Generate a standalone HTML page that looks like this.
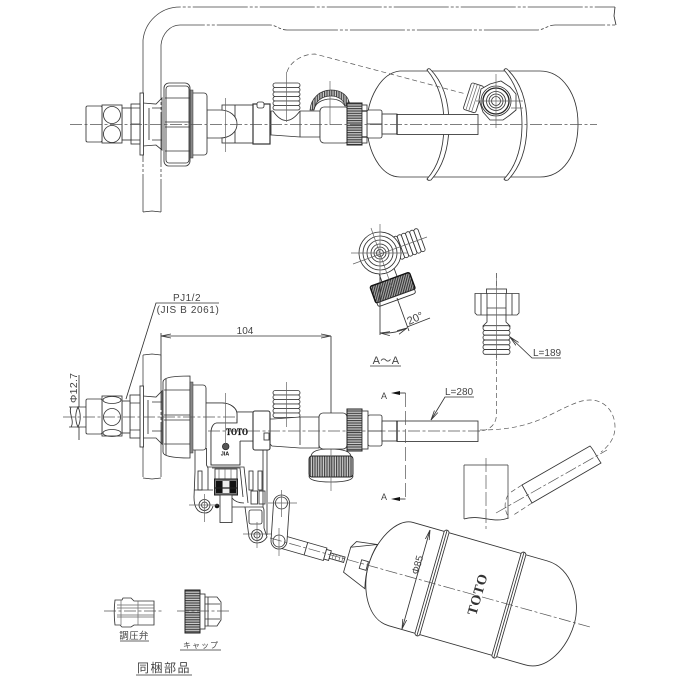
<!DOCTYPE html>
<html><head><meta charset="utf-8"><style>
html,body{margin:0;padding:0;background:#fff;width:682px;height:682px;overflow:hidden}
svg{display:block}
text{font-family:"Liberation Sans","Noto Sans CJK JP",sans-serif;fill:#444;stroke:none}
.l{fill:none;stroke:#333;stroke-width:.85}
.w{fill:#fff;stroke:#333;stroke-width:.85}
.h{fill:none;stroke:#222;stroke-width:1.3}
.t{fill:none;stroke:#666;stroke-width:.7}
.c{fill:none;stroke:#555;stroke-width:.7;stroke-dasharray:12 2.5 3 2.5}
.d{fill:none;stroke:#555;stroke-width:.7;stroke-dasharray:5 3}
.dd{fill:none;stroke:#444;stroke-width:.8;stroke-dasharray:55 2 3 2 3 2}
</style></head><body>
<svg width="682" height="682" viewBox="0 0 682 682" xmlns="http://www.w3.org/2000/svg">
<defs>
<pattern id="k" width="3" height="2.4" patternUnits="userSpaceOnUse"><rect width="3" height="2.4" fill="#ccc"/><rect width="3" height="1.2" fill="#444"/></pattern>
<pattern id="kv" width="2.4" height="3" patternUnits="userSpaceOnUse"><rect width="2.4" height="3" fill="#ccc"/><rect width="1.2" height="3" fill="#444"/></pattern>
<pattern id="kd" width="2.2" height="3" patternUnits="userSpaceOnUse" patternTransform="rotate(35)"><rect width="2.2" height="3" fill="#aaa"/><rect width="1.1" height="3" fill="#333"/></pattern>
<g id="thr">
<rect class="w" x="-13.500" y="-13.500" width="27" height="4.500" rx="2.200"/>
<rect class="w" x="-13.500" y="-9" width="27" height="4.500" rx="2.200"/>
<rect class="w" x="-13.500" y="-4.500" width="27" height="4.500" rx="2.200"/>
<rect class="w" x="-13.500" y="0" width="27" height="4.500" rx="2.200"/>
<rect class="w" x="-13.500" y="4.500" width="27" height="4.500" rx="2.200"/>
<rect class="w" x="-13.500" y="9" width="27" height="4.500" rx="2.200"/>
</g>
<marker id="a" viewBox="0 0 10 6" refX="10" refY="3" markerWidth="10" markerHeight="6" orient="auto-start-reverse" markerUnits="userSpaceOnUse"><path d="M0 1L10 3L0 5" fill="none" stroke="#333" stroke-width=".8"/></marker>
</defs>

<!-- TOP VIEW wall -->
<path class="dd" d="M143 40C145 22 160 7 180 7H615"/>
<path class="dd" d="M161 45C162 34 170 25 180 25H270C276 25 280 30 287 30H537C544 30 548 25 555 25H616"/>
<path class="l" d="M615 7L614 16L616 25"/>
<path class="dd" d="M143 40V212"/><path class="dd" d="M161 45V212"/>
<path class="l" d="M143 212L152 211L161 212"/>

<!-- FLOAT top -->
<path class="l" d="M540 71H400C380 73 367 100 367 124C367 150 380 177 400 177H540C563 177 578 155 578 124C578 95 563 71 540 71Z"/>
<path class="w" d="M430 69Q449 88 449 124Q449 160 431 180Q428 181 427 179Q444 160 444 124Q444 90 427 70Q428 68 430 69Z"/>
<path class="w" d="M507 69Q527 88 527 124Q527 160 508 180Q505 181 504 179Q522 160 522 124Q522 90 504 70Q505 68 507 69Z"/>
<path class="d" d="M287 72C290 62 302 54 315 54L466 94"/>
<!-- rotated valve in float -->
<g transform="rotate(18 474 98)"><rect class="w" x="467" y="84" width="13" height="28" rx="2"/><path class="t" d="M470 84V112M473 84V112M476 84V112"/></g>
<path class="w" d="M481 89L490 84L501 81L510 87L516 94L516 110L510 115L503 120L490 120L483 112L479 100Z"/>
<circle class="w" cx="496" cy="101" r="15"/><circle class="h" cx="496" cy="101" r="13"/><circle class="l" cx="496" cy="101" r="9.500"/><circle class="l" cx="496" cy="101" r="7"/><circle class="l" cx="496" cy="101" r="4.500"/>
<path class="t" d="M496 74V128M476 101H523M511 108L523 108"/>

<!-- pipe top -->
<rect class="w" x="367" y="110" width="15" height="28" rx="2"/><path class="l" d="M367 124H382"/>
<rect class="w" x="382" y="114" width="15" height="20"/>
<rect class="w" x="397" y="114.500" width="81" height="20"/>
<path class="h" d="M397 114V134"/>

<!-- body top -->
<path d="M310 110C311 98 320 90 331 90C342 90 349 96 350 106L345 106C344 100 338 96 331 96C321 96 315 102 314 110Z" fill="url(#kv)" stroke="#333" stroke-width=".7"/>
<path class="l" d="M314 110C315 103 322 99 331 99C337 99 342 101 345 106"/>
<g transform="translate(286.500 96.500)"><use href="#thr"/></g>
<path class="w" d="M271 111H273Q286 130 300 111H320V137H300L272 135H271Z"/>
<path class="l" d="M300 111V137"/>
<rect class="w" x="320" y="107" width="29" height="36" rx="4"/>
<rect x="347" y="103" width="15" height="42" fill="url(#k)" stroke="#222" stroke-width="1"/>
<rect class="w" x="362" y="105" width="5" height="38"/>
<path class="h" d="M362 111H367M362 137H367"/>
<path class="t" d="M330 81V125M286.500 72V122"/>

<!-- collar top -->
<rect class="w" x="222" y="105" width="31" height="38"/>
<path class="l" d="M235 105V143"/>
<path class="w" d="M207 110H220C230 110 237 116 237 124C237 132 230 138 220 138H207Z"/>
<rect x="253" y="104" width="17" height="40" class="w" style="stroke-width:1.2"/>
<rect class="w" x="257" y="102" width="7" height="6" rx="2"/>
<path class="t" d="M225.500 98V152"/>

<!-- nut/left top -->
<rect class="w" x="188" y="93" width="19" height="62" rx="3"/>
<rect x="190" y="90" width="3" height="68" fill="#888" stroke="#333" stroke-width=".5"/>
<rect class="w" x="164" y="83" width="26" height="83" rx="5"/>
<rect class="l" x="166" y="86" width="23" height="77" rx="3"/>
<path class="l" d="M165 98H190M165 151H190M165 122H190M165 127H190"/>
<path class="l" d="M143 103L156 104L162 98V150L156 145L143 146M152 108H162V140H152"/>
<path class="l" d="M149 108V140"/>
<rect class="w" x="140" y="93" width="3.500" height="62"/>
<rect class="w" x="131" y="104" width="9" height="40"/>
<path class="l" d="M131 124H140M131 108H140M131 140H140"/>
<rect class="w" x="122" y="108" width="9" height="32"/>
<rect class="w" x="102" y="105" width="20" height="38"/>
<circle class="l" cx="112" cy="115" r="8.500"/><circle class="l" cx="112" cy="134" r="8.500"/>
<rect class="w" x="86" y="106" width="16" height="36" rx="1.500"/>
<path class="c" d="M70 124.500H597"/>

<!-- LOWER: labels -->
<text x="187" y="301" font-size="10" text-anchor="middle" letter-spacing=".5">PJ1/2</text>
<path class="l" d="M126 399L156 303H219"/>
<text x="188" y="313" font-size="10" text-anchor="middle" letter-spacing=".6">(JIS B 2061)</text>
<path class="l" d="M161 336H331" marker-start="url(#a)" marker-end="url(#a)"/>
<path class="l" d="M161 333V380M331 336V414"/>
<text x="245" y="334" font-size="10" text-anchor="middle">104</text>
<text transform="translate(77 403) rotate(-90)" font-size="10.500" letter-spacing=".3">Φ12.7</text>
<path class="l" d="M69 407H86M69 427H86M79 375V407M79 427V440"/>
<path class="l" d="M71 407C68 412 75 421 71 427M78 407C81 413 81 421 78 427C75 421 75 413 78 407Z"/>

<!-- wall lower -->
<path class="dd" d="M143 355V478M161 355V478"/>
<path class="l" d="M143 355L152 354L161 355M143 478L152 479L161 478"/>

<!-- thread lower -->
<g transform="translate(286.500 404)"><use href="#thr"/></g>
<!-- cap lower -->
<path class="w" d="M311 457C311 451 318 449 330 449C342 449 351 451 351 457Z"/>
<path class="w" d="M309 476Q309 482 331 482Q353 482 353 476Z"/>
<rect x="309" y="456" width="44" height="21" fill="url(#kv)" stroke="#222" stroke-width=".9" rx="3"/>
<path class="t" d="M331 449V491"/>

<!-- tee lower -->
<path class="w" d="M270 419H273L300 417H319V448H300L272 446L270 444Z"/>
<path class="l" d="M300 417V445"/>
<rect class="w" x="319" y="413" width="28" height="36" rx="4"/>
<rect x="347" y="409" width="15" height="42" fill="url(#k)" stroke="#222" stroke-width="1"/>
<rect class="w" x="362" y="411" width="6" height="38"/>
<rect class="w" x="368" y="415" width="14" height="31" rx="2"/><path class="l" d="M368 431H382"/>
<rect class="w" x="382" y="421" width="15" height="20"/>
<rect class="w" x="397" y="421" width="81" height="20.500"/>
<path class="h" d="M397 421V441"/>
<path class="t" d="M286.500 382V427"/>

<!-- bracket -->
<path class="l" d="M195 448V472L194 497C194 508 198 513 205 513C209 513 212 510 213 506"/>
<path class="l" d="M206.500 448V465L208 468V490M194 490H213"/>
<path class="l" d="M208 467H244L248 503M212 468H240L243 497"/>
<path class="l" d="M263 450V515M267 450V535"/>
<rect class="l" x="198" y="471" width="4" height="19"/>
<rect class="l" x="249" y="471" width="4" height="19"/><rect class="l" x="258" y="471" width="4" height="19"/>
<rect class="l" x="251" y="491" width="6.500" height="13"/><rect class="l" x="259" y="491" width="6" height="13"/>
<rect x="215" y="469" width="22" height="10" class="w"/>
<path class="t" d="M219 469V479M225 469V479M231 469V479"/>
<rect x="214.500" y="479" width="23" height="16" fill="#777" stroke="#222"/>
<rect x="216" y="481" width="6" height="12" fill="#111"/><rect x="230" y="481" width="6" height="12" fill="#111"/><rect x="223" y="481" width="6" height="12" fill="#eee"/>
<path class="h" d="M215 488H237"/>
<rect class="w" x="220" y="495" width="12" height="27.500"/>
<circle cx="217" cy="506" r="2.300" fill="#111"/>
<path class="l" d="M232 498Q236 503 244 503M232 507H245"/>
<path class="w" d="M245 507H262Q264 507 264 511V528L267 537C262 545 252 545 249 537Z"/>
<rect class="l" x="249" y="510" width="13" height="14" rx="2"/>
<circle class="w" cx="204.500" cy="505" r="5.500"/><circle class="l" cx="204.500" cy="505" r="3"/>
<path class="t" d="M189 505H218M204.500 494V522"/>
<circle class="w" cx="257" cy="535" r="5.500"/><circle class="l" cx="257" cy="535" r="3"/>
<path class="t" d="M243 534H272M257 522V548"/>

<!-- rod lower -->
<g transform="translate(279 541) rotate(16)">
<rect class="w" x="0" y="-6.500" width="48" height="13"/>
<path class="l" d="M28-6.500V6.500"/>
<rect class="w" x="48" y="-5" width="5" height="10"/>
<rect class="w" x="53" y="-2.800" width="15" height="5.600"/>
<path class="t" d="M56-3V3M59-3V3M63-3V3M66-3V3"/>
</g>
<!-- lever -->
<path class="w" d="M273.500 503A8 8 0 0 1 289.500 503L287 541A8 8 0 0 1 271 541Z"/>
<circle class="l" cx="281.500" cy="503" r="6"/><circle class="l" cx="279" cy="541" r="6"/>
<path class="t" d="M268 503H297M281.500 490V517M279 528V556"/>

<!-- collar + neck lower -->
<path class="w" d="M206 403H222C230 403 237 408 237 414V423H217C213 423 211 428 211 433V465H240V441H253V412H237"/>
<path class="w" d="M237 412H253V441H240V463H211V432C211 427 213 423 217 423H237Z" style="stroke:none"/>
<path class="l" d="M206 403H222C230 403 237 408 237 414V423H217C213 423 211 428 211 433V465H240V441"/>
<path class="l" d="M237 412H253M240 441H253"/>
<path class="w" d="M206 403H222C230 403 237 408 237 414V419H206Z" style="stroke:none"/>
<path class="l" d="M206 403H222C230 403 237 408 237 414V423"/>
<rect x="253" y="411" width="17" height="39" rx="2" class="w" style="stroke-width:1.100"/>
<rect class="w" x="264" y="433" width="5" height="7"/>
<text x="226" y="435" font-size="9" font-weight="700" style="font-family:'Liberation Serif',serif;fill:#111;stroke:#111;stroke-width:.25" textLength="22" lengthAdjust="spacingAndGlyphs">TOTO</text>
<circle cx="225.700" cy="446.500" r="3.300" fill="#555" stroke="#222" stroke-width=".7"/>
<text x="225" y="455.500" font-size="5.500" font-weight="700" text-anchor="middle" style="fill:#111">JIA</text>

<!-- left lower -->
<path class="w" d="M163 382C163 378 170 376 190 376V458C172 458 163 456 163 452Z"/>
<rect class="w" x="190" y="385" width="16" height="65" rx="3"/>
<rect x="190" y="382" width="3" height="71" fill="#888" stroke="#333" stroke-width=".5"/>
<path class="l" d="M166 379V455M164 390H190M164 444H190M164 415H190M164 420H190"/>
<path class="l" d="M143 396L156 397L162 391V444L156 438L143 438M152 402H162V431H152"/>
<path class="l" d="M148 400V434"/>
<rect class="w" x="140" y="386" width="3.500" height="61"/>
<rect class="w" x="130" y="395" width="10" height="43"/>
<path class="l" d="M130 403H140M130 430H140"/>
<rect class="w" x="122" y="401" width="8" height="32"/>
<rect class="w" x="102" y="396" width="20" height="40"/>
<circle class="l" cx="112" cy="417" r="8.500"/><ellipse class="l" cx="112" cy="400" rx="9" ry="3.500"/><ellipse class="l" cx="112" cy="433" rx="9" ry="3.500"/>
<rect class="w" x="86" y="399" width="16" height="35" rx="1.500"/>
<path class="c" d="M63 417H237"/>
<path class="c" d="M208 431H482"/>
<path class="t" d="M225.500 393V444"/>

<!-- A~A -->
<g transform="rotate(-20 380 253)">
<rect class="w" x="372" y="272" width="16" height="10"/>
<rect x="359" y="281" width="42" height="18" rx="2" fill="url(#kd)" stroke="#111" stroke-width="1.400"/>
<path class="w" d="M360 299H400V301Q400 303 397 303H363Q360 303 360 301Z"/>
</g>
<g transform="translate(409 244) rotate(-20)">
<rect class="w" x="-13" y="-12" width="4.400" height="24" rx="2"/><rect class="w" x="-8.600" y="-12" width="4.400" height="24" rx="2"/><rect class="w" x="-4.200" y="-12" width="4.400" height="24" rx="2"/><rect class="w" x=".2" y="-12" width="4.400" height="24" rx="2"/><rect class="w" x="4.600" y="-12" width="4.400" height="24" rx="2"/><rect class="w" x="9" y="-12" width="4.400" height="24" rx="2"/>
</g>
<circle class="w" cx="380" cy="253" r="21"/>
<circle class="l" cx="380" cy="253" r="17"/><circle class="l" cx="380" cy="253" r="13"/><circle class="l" cx="380" cy="253" r="9"/><circle class="l" cx="380" cy="253" r="6"/><circle class="l" cx="380" cy="253" r="3.500"/>
<path class="t" d="M351 253H408M380 224V280M353 264L427 237M371 228L392 288"/>
<path class="l" d="M380 275V335M397 298L409 331"/>
<path class="l" d="M380 333Q395 334 407 328" marker-start="url(#a)" marker-end="url(#a)"/>
<path class="l" d="M407 327L430 318"/>
<text transform="translate(409 325) rotate(-24)" font-size="11">20°</text>
<text x="386" y="364" font-size="11" text-anchor="middle" letter-spacing=".4">A～A</text>
<path class="l" d="M370 366H401"/>

<!-- small thread part -->
<path class="d" d="M496.500 273V414C496.500 424 490 431 478 431"/>
<rect class="w" x="486.500" y="289" width="20" height="5"/>
<path class="w" d="M475 293.500H519V313L517 315H477L475 313Z"/>
<path class="l" d="M481 293.500V315M487 293.500V315M506 293.500V315M512 293.500V315M487 308H506"/>
<path class="w" d="M487 315H506V322L510 326H483L487 322Z"/>
<g transform="translate(496.500 340) scale(1 1.060)"><use href="#thr"/></g>
<path class="t" d="M496.500 273V360"/>
<path class="l" d="M561 358H532L510 337" marker-end="url(#a)"/>
<text x="533" y="356" font-size="10">L=189</text>
<text x="445" y="395" font-size="10">L=280</text>
<path class="l" d="M474 397H445L431 420" marker-end="url(#a)"/>

<!-- section arrow -->
<path class="d" d="M405.500 393V499" style="stroke-dasharray:14 4"/>
<path class="l" d="M394 393H405.500"/>
<path d="M391 393L400 391V395Z" fill="#111"/>
<path class="l" d="M394 499H405.500"/>
<path d="M391 499L400 497V501Z" fill="#111"/>
<text x="381" y="399" font-size="9">A</text>
<text x="381" y="500" font-size="9">A</text>

<!-- bent dashed -->
<path class="d" d="M480 430C510 430 530 425 550 415C570 405 580 400 590 400C605 400 615 412 615 427C615 437 610 445 601 452"/>
<!-- wall section -->
<path class="dd" d="M464 465V519"/><path class="l" d="M464 465H508"/><path class="dd" d="M508 465V519"/>
<path class="l" d="M464 519C480 514 494 524 508 518"/>
<path class="d" d="M486 458V529" style="stroke-dasharray:14 3"/>
<!-- pipe lower right -->
<path class="w" d="M522 485L590 446C594 450 596 456 601 463L532 503Z"/>
<path class="d" d="M522 485L508 494M532 503L512 516M508 495C504 502 504 510 509 518"/>
<path class="c" d="M496 513L607 450"/>

<!-- FLOAT lower -->
<g transform="translate(432 583) rotate(16)">
<path class="w" d="M0-53H-35C-52-53-66-25-66 0C-66 25-52 53-30 53H112C135 53 148 25 148 0C148-25 130-53 105-53Z"/>
<path class="w" d="M-63-22L-88-12V14L-63 24C-65 16-66 8-66 1C-66-7-65-15-63-22Z"/>
<path class="l" d="M-63-22L-84-19L-88-12"/>
<rect class="w" x="-74" y="-3" width="7" height="9"/>
<rect class="w" x="-2.500" y="-55" width="5" height="110" rx="2.500"/><path class="l" d="M0-55V55"/>
<rect class="w" x="77.500" y="-55" width="5" height="110" rx="2.500"/><path class="l" d="M80-55V55"/>
</g>
<path class="c" d="M270 538L590 627"/>
<path class="l" d="M430 530L402 629" marker-start="url(#a)" marker-end="url(#a)"/>
<text transform="translate(418 575) rotate(-74)" font-size="10">Φ85</text>
<text transform="translate(476 616) rotate(-74)" font-size="14" font-weight="700" style="font-family:'Liberation Serif',serif;fill:#333" textLength="42">TOTO</text>

<!-- accessories -->
<path class="l" d="M115 600H122L123 598H131L134 601H154V625H134L131 627H122L120 625H115C114 617 114 608 115 600Z"/>
<path class="t" d="M117 605H154M117 608H154M117 615H154M117 617H154M121 600V625M138 601V625"/>
<path class="c" d="M104 611H163"/>
<text x="134" y="639" font-size="9.500" text-anchor="middle" letter-spacing=".3">調圧弁</text>
<path class="l" d="M120 641H149"/>
<rect x="185" y="590" width="15" height="43" fill="url(#k)" stroke="#222"/>
<rect class="w" x="200" y="594" width="5" height="35"/>
<path class="w" d="M205 597H217L221 602V620L217 626H205Z"/>
<path class="l" d="M205 604H220M205 619H220M208 597V626"/>
<path class="c" d="M177 611H229"/>
<text x="201" y="648" font-size="8" text-anchor="middle" letter-spacing="1">キャップ</text>
<path class="l" d="M180 650H221"/>
<text x="164" y="672" font-size="12" text-anchor="middle" letter-spacing="1.500">同梱部品</text>
<path class="l" d="M136 675H192"/>
</svg>
</body></html>
